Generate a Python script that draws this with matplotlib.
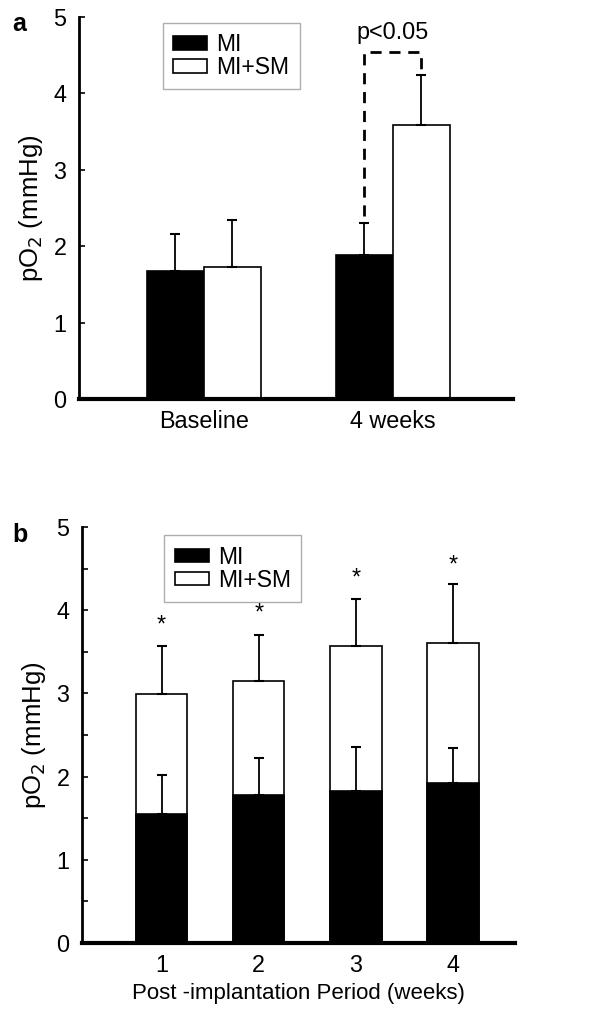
import numpy as np
import matplotlib
matplotlib.use('Agg')
import matplotlib.pyplot as plt

plt.rcParams['font.family'] = ['Liberation Sans', 'DejaVu Sans']

# panel a data
groups_a = ['Baseline', '4 weeks']
mi_a = [1.67, 1.89]
mi_a_err = [0.49, 0.41]
mism_a = [1.73, 3.59]
mism_a_err = [0.61, 0.65]

# panel b data
weeks = [1, 2, 3, 4]
mi_b = [1.55, 1.78, 1.83, 1.92]
mi_b_err = [0.47, 0.44, 0.53, 0.42]
mism_b = [2.99, 3.15, 3.57, 3.61]
mism_b_err = [0.58, 0.55, 0.56, 0.70]
star_y = [3.82, 3.97, 4.39, 4.54]

fig = plt.figure(figsize=(6.04, 10.22), dpi=100)
FS = 16.8
LEG_FS = 16.5

def style_axis(ax, minor=False):
    ax.spines['top'].set_visible(False)
    ax.spines['right'].set_visible(False)
    ax.spines['left'].set_linewidth(2)
    ax.spines['bottom'].set_linewidth(3)
    ax.set_ylim(0, 5)
    ax.set_yticks(range(6))
    ax.tick_params(axis='y', direction='in', length=4, width=1.2, labelsize=FS, pad=9)
    ax.tick_params(axis='x', length=0, labelsize=FS, pad=8)
    if minor:
        ax.set_yticks(np.arange(0.5, 5, 1), minor=True)
        ax.tick_params(axis='y', which='minor', direction='in', length=4, width=1.2)
    ax.set_ylabel('pO$_2$ (mmHg)', fontsize=18.5, labelpad=6)

eb = dict(fmt='none', ecolor='black', elinewidth=1.3, capsize=3.5, capthick=1.5)
leg_kw = dict(loc='upper left', fontsize=LEG_FS, frameon=True, fancybox=False,
              edgecolor='#999999', handlelength=1.5, handleheight=0.55,
              handletextpad=0.4, labelspacing=0.0, borderpad=0.45, borderaxespad=0)

# ---- panel a
ax1 = fig.add_axes([0.1308, 0.6096, 0.7182, 0.3738])
x = np.arange(len(groups_a))
w = 0.3016
ax1.bar(x - w/2, mi_a, w, color='black', edgecolor='black', linewidth=1.2, label='MI')
ax1.bar(x + w/2, mism_a, w, color='white', edgecolor='black', linewidth=1.2, label='MI+SM')
ax1.errorbar(x - w/2, mi_a, yerr=[np.zeros(2), mi_a_err], **eb)
ax1.errorbar(x + w/2, mism_a, yerr=[np.zeros(2), mism_a_err], **eb)
# significance bracket
ax1.plot([1 - w/2, 1 - w/2, 1 + w/2, 1 + w/2], [2.4, 4.54, 4.54, 4.32],
         color='black', linestyle=(0, (4, 2.8)), linewidth=2)
ax1.text(1, 4.64, 'p<0.05', ha='center', va='bottom', fontsize=FS)
ax1.set_xlim(-0.661, 1.635)
ax1.set_xticks(x)
ax1.set_xticklabels(groups_a)
style_axis(ax1)
leg = ax1.legend(bbox_to_anchor=(0.193, 0.985), **leg_kw)
leg.get_frame().set_linewidth(1)
fig.text(0.02, 0.988, 'a', fontsize=18, fontweight='bold', va='top')

# ---- panel b
ax2 = fig.add_axes([0.1358, 0.0773, 0.7168, 0.407])
wb = 0.53
ax2.bar(weeks, mism_b, wb, color='white', edgecolor='black', linewidth=1.2, label='MI+SM')
ax2.errorbar(weeks, mism_b, yerr=[np.zeros(4), mism_b_err], **eb)
ax2.bar(weeks, mi_b, wb, color='black', edgecolor='black', linewidth=1.2, label='MI')
ax2.errorbar(weeks, mi_b, yerr=[np.zeros(4), mi_b_err], **eb)
for xi, sy in zip(weeks, star_y):
    ax2.text(xi, sy, '*', ha='center', va='center', fontsize=FS)
ax2.set_xlim(0.182, 4.637)
ax2.set_xticks(weeks)
ax2.set_xticklabels([str(n) for n in weeks])
ax2.set_xlabel('Post -implantation Period (weeks)', fontsize=16, labelpad=4)
style_axis(ax2, minor=True)
h, l = ax2.get_legend_handles_labels()
leg2 = ax2.legend([h[1], h[0]], [l[1], l[0]], bbox_to_anchor=(0.19, 0.98), **leg_kw)
leg2.get_frame().set_linewidth(1)
fig.text(0.02, 0.488, 'b', fontsize=18, fontweight='bold', va='top')

fig.savefig('out.png', dpi=100)
